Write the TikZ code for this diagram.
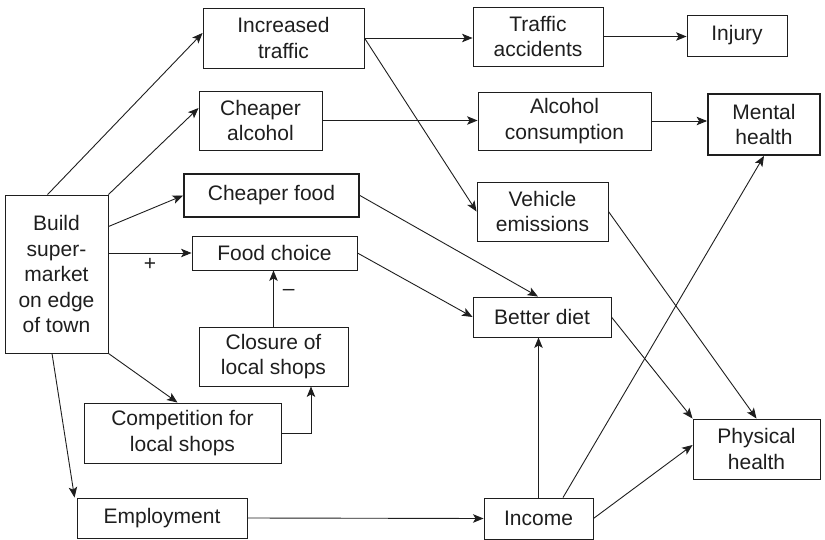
\documentclass[tikz,border=0pt]{standalone}
\usepackage{fontspec}
\setmainfont{Liberation Sans}
\usetikzlibrary{arrows.meta,calc}
\definecolor{ink}{RGB}{30,30,30}
\begin{document}
\begin{tikzpicture}[x=1pt,y=-1pt,
  box/.style={draw=ink, line width=0.9pt, inner sep=0pt, align=center, text=ink,
              font=\fontsize{21}{25.5}\selectfont},
  heavy/.style={line width=1.8pt},
  link/.style={draw=ink, line width=0.9pt, -{Stealth[length=10.5pt,width=8.5pt,inset=2.5pt]}},
  sign/.style={text=ink, inner sep=0pt, font=\fontsize{21}{22}\selectfont}]
\useasboundingbox (0,0) rectangle (825,540);

% boxes
\node[box, minimum width=103pt, minimum height=158pt] (build) at (56.5,274) {Build\\super-\\market\\on edge\\of town};
\node[box, minimum width=161pt, minimum height=60pt] (traffic) at (283.5,38) {Increased\\traffic};
\node[box, minimum width=123pt, minimum height=59pt] (alcohol) at (260.5,120.5) {Cheaper\\alcohol};
\node[box, heavy, minimum width=175pt, minimum height=43pt] (food) at (271.5,195.5) {Cheaper food};
\node[box, minimum width=165pt, minimum height=34pt] (choice) at (274.5,253) {Food choice};
\node[box, minimum width=149pt, minimum height=59pt] (closure) at (273.5,356.5) {Closure of\\local shops};
\node[box, minimum width=197pt, minimum height=60pt] (compet) at (182.5,433) {Competition for\\local shops};
\node[box, minimum width=170pt, minimum height=40pt] (employ) at (162,518) {Employment};
\node[box, minimum width=130pt, minimum height=59pt] (accidents) at (538,36.5) {Traffic\\accidents};
\node[box, minimum width=100pt, minimum height=41pt] (injury) at (737,35.5) {Injury};
\node[box, minimum width=173pt, minimum height=58pt] (alccons) at (564.5,121) {Alcohol\\consumption};
\node[box, heavy, minimum width=112pt, minimum height=61pt] (mental) at (764,124.5) {Mental\\health};
\node[box, minimum width=131pt, minimum height=59pt] (emissions) at (542.5,211.5) {Vehicle\\emissions};
\node[box, minimum width=138pt, minimum height=40pt] (diet) at (542,317) {Better diet};
\node[box, minimum width=127pt, minimum height=60pt] (physical) at (756.5,449) {Physical\\health};
\node[box, minimum width=109pt, minimum height=41pt] (income) at (538.5,518.5) {Income};

% connectors from the supermarket
\draw[link] ([xshift=43pt]build.north west) -- ([yshift=5pt]traffic.west);
\draw[link] (build.north east) -- ([yshift=12.5pt]alcohol.west);
\draw[link] ([yshift=-32pt]build.north east) -- (food.west);
\draw[link] (build.east |- choice.west) -- node[sign, below=5pt] (plus) {+} (choice.west);
\draw[link] (build.south east) -- ([xshift=-5pt]compet.north);
\draw[link] ([xshift=-4.5pt]build.south) -- ([xshift=-2pt]employ.north west);

% local shops
\draw[link] (closure.north) -- node[sign, right=9pt, pos=0.6] (minus) {\textendash} (closure.north |- choice.south);
\draw[link] (compet.east) -| ([xshift=37.5pt]closure.south);

% traffic and alcohol
\draw[link] (traffic.east) -- (traffic.east -| accidents.west);
\draw[link] (traffic.east) -- (emissions.west);
\draw[link] (accidents.east) -- (accidents.east -| injury.west);
\draw[link] (alcohol.east) -- (alcohol.east -| alccons.west);
\draw[link] (alccons.east) -- (alccons.east -| mental.west);

% diet and health
\draw[link] (food.east) -- ([xshift=-4pt]diet.north);
\draw[link] (choice.east) -- (diet.west);
\draw[link] (diet.east) -- (physical.north west);
\draw[link] (emissions.east) -- (physical.north);

% income
\draw[link] (employ.east) -- (income.west);
\draw[link] (income.north) -- (income.north |- diet.south);
\draw[link] ([xshift=24.5pt]income.north) -- (mental.south);
\draw[link] (income.east) -- ([yshift=4pt]physical.west);
\end{tikzpicture}
\end{document}
